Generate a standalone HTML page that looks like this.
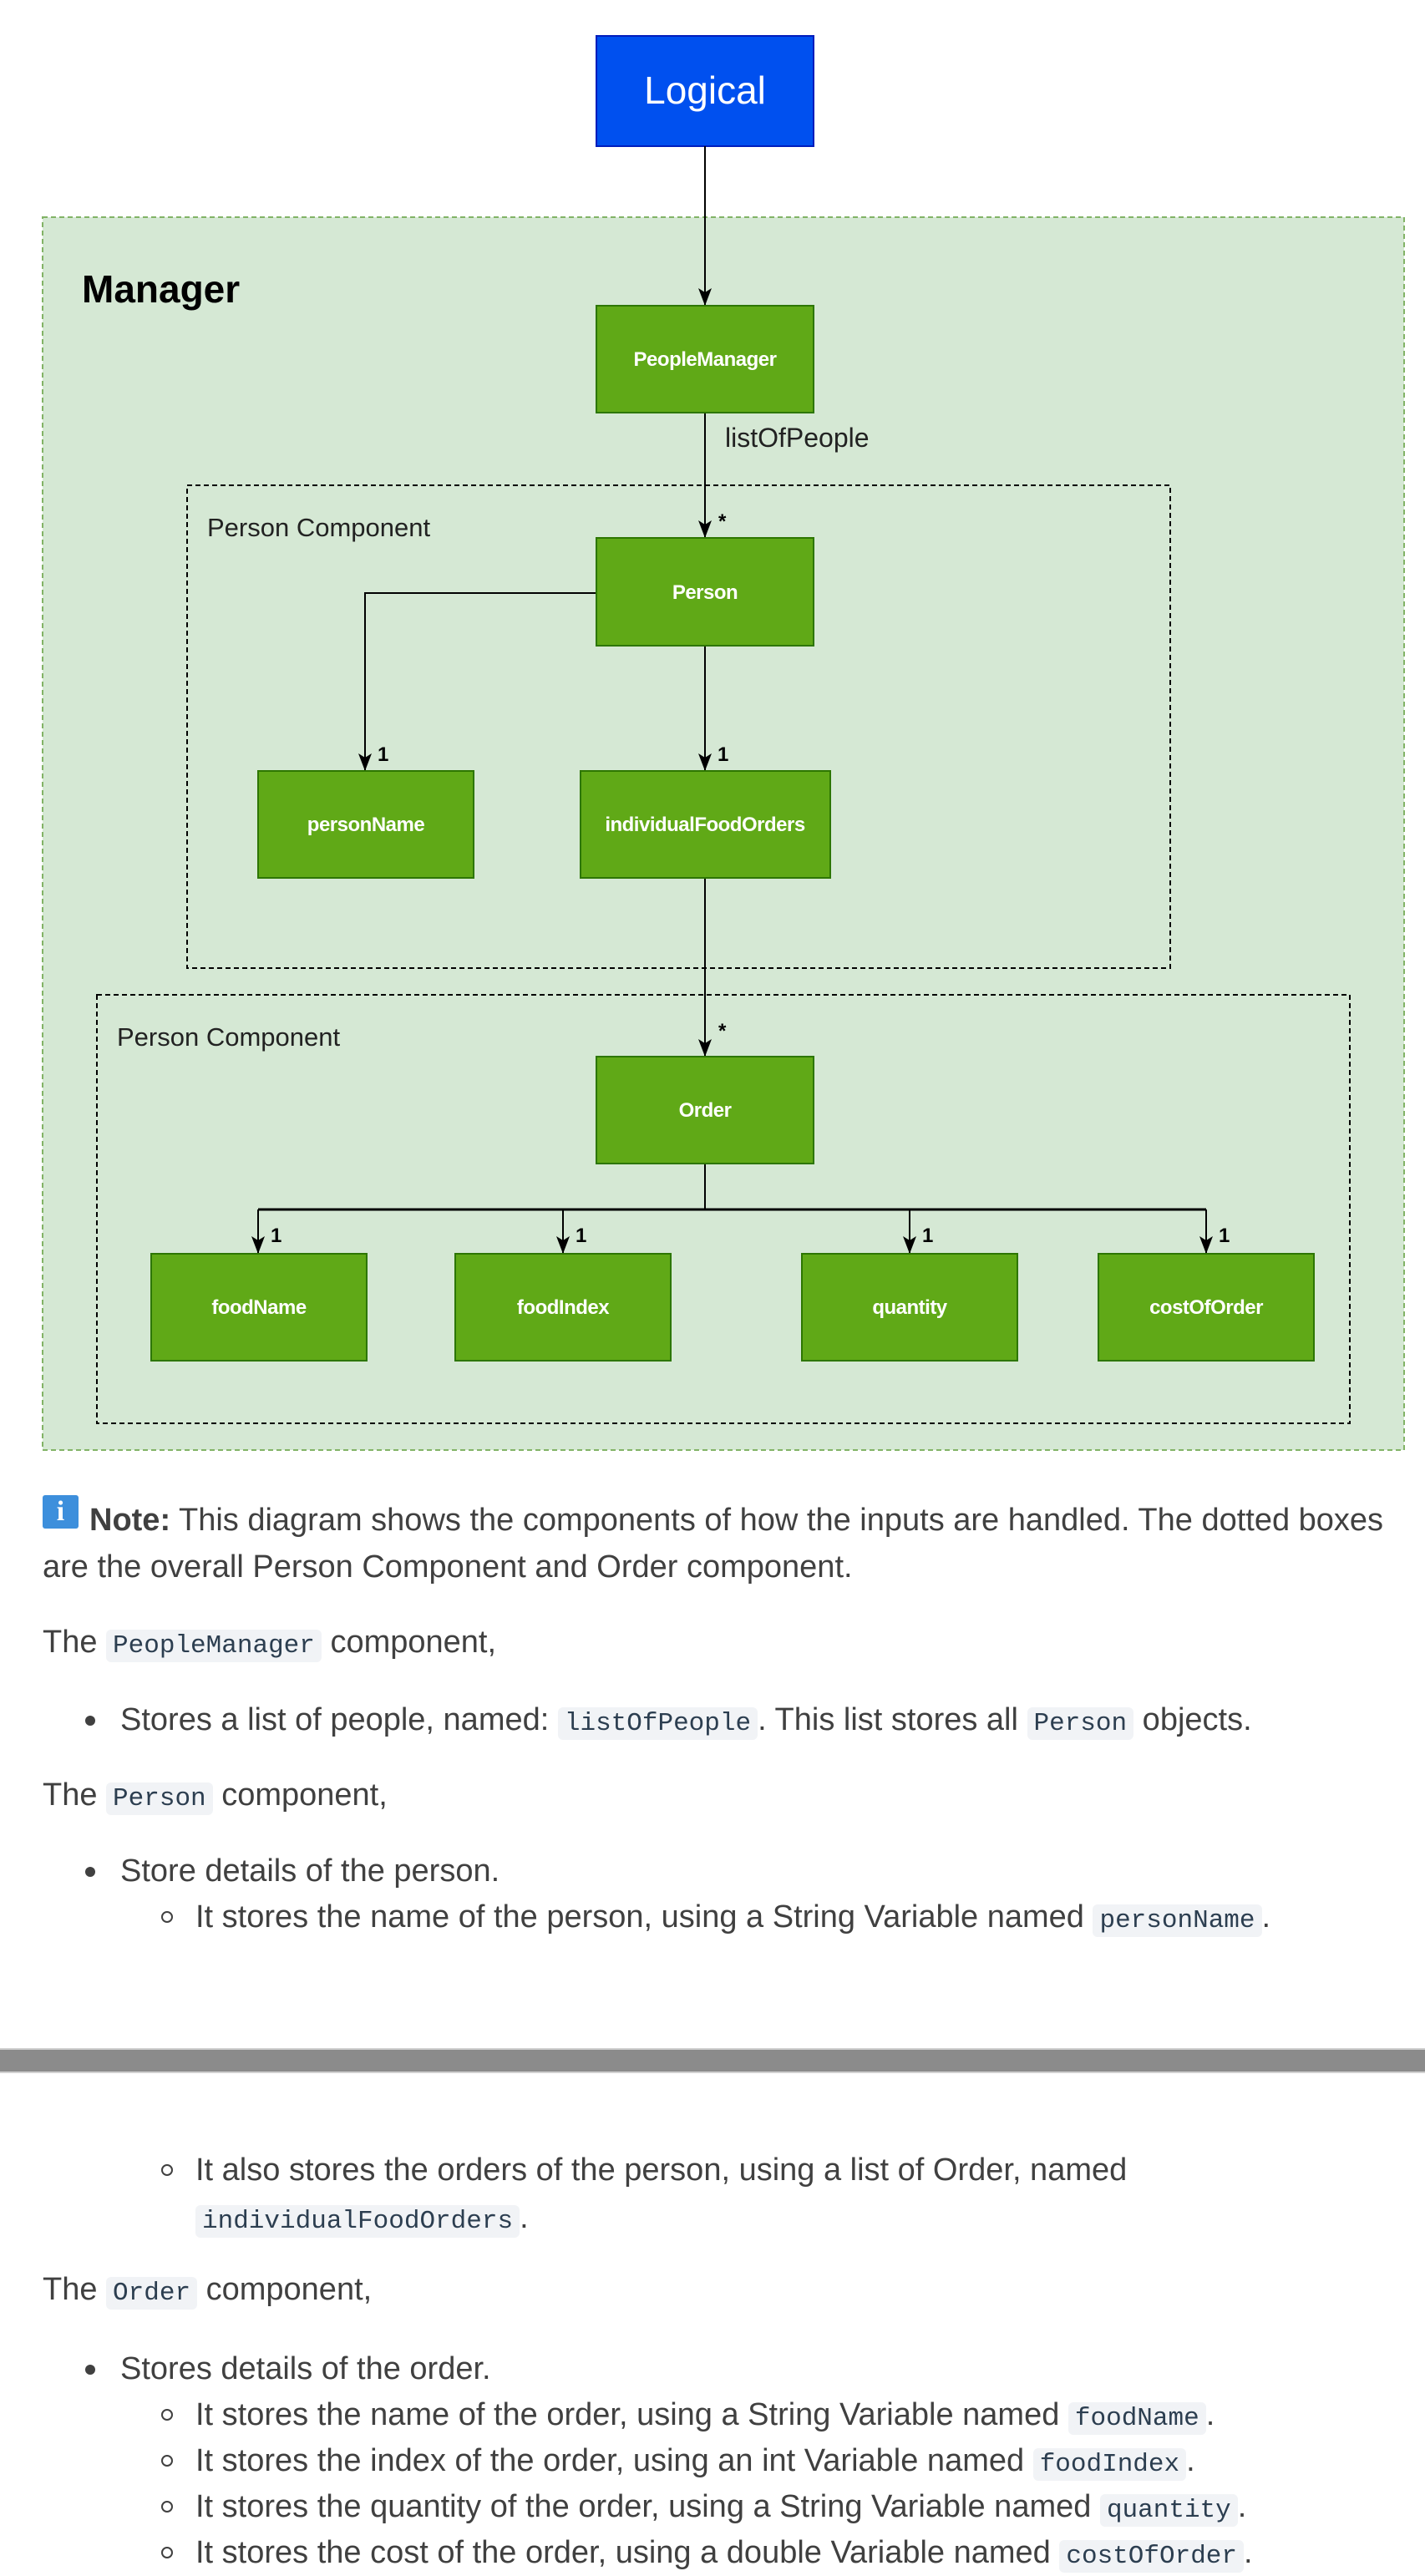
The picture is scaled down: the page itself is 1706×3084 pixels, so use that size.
<!DOCTYPE html>
<html><head><meta charset="utf-8"><style>
html,body{margin:0;padding:0;background:#fff;width:1706px;height:3084px;overflow:hidden;position:relative}
svg{position:absolute;left:0;top:0}
.t{position:absolute;left:51px;font-family:"Liberation Sans",sans-serif;font-size:38px;color:#404040;line-height:55px;white-space:nowrap}
code{font-family:"Liberation Mono",monospace;font-size:31px;background:#f1f3f6;color:#2c3e50;padding:2px 8px;border-radius:6px}
.dot{position:absolute;width:12px;height:12px;border-radius:50%;background:#404040}
.cir{position:absolute;width:14px;height:14px;border-radius:50%;border:2.5px solid #404040;box-sizing:border-box}
</style></head><body>
<svg width="1706" height="1760" font-family="Liberation Sans, sans-serif">
<defs><marker id="a" markerWidth="22" markerHeight="18" refX="20" refY="8" orient="auto" markerUnits="userSpaceOnUse"><path d="M0,0 L21,8 L0,16 L5,8 z" fill="#000"/></marker></defs>
<rect x="51" y="260" width="1630" height="1476" fill="#d5e8d4" stroke="#82b366" stroke-width="2" stroke-dasharray="6,4"/>
<rect x="714" y="43" width="260" height="132" fill="#0050ef" stroke="#001dbc" stroke-width="2"/>
<text x="844" y="124" fill="#fff" font-size="46" text-anchor="middle">Logical</text>
<text x="98" y="362" font-size="46" font-weight="bold" fill="#000">Manager</text>
<rect x="224" y="581" width="1177" height="578" fill="none" stroke="#000" stroke-width="2" stroke-dasharray="6,4"/>
<rect x="116" y="1191" width="1500" height="513" fill="none" stroke="#000" stroke-width="2" stroke-dasharray="6,4"/>
<text x="248" y="642" font-size="31" fill="#222">Person Component</text>
<text x="140" y="1252" font-size="31" fill="#222">Person Component</text>
<g stroke="#000" stroke-width="2" fill="none">
<line x1="844" y1="175" x2="844" y2="365" marker-end="url(#a)"/>
<line x1="844" y1="494" x2="844" y2="643" marker-end="url(#a)"/>
<polyline points="714,710 437,710 437,922" marker-end="url(#a)"/>
<line x1="844" y1="773" x2="844" y2="922" marker-end="url(#a)"/>
<line x1="844" y1="1051" x2="844" y2="1264" marker-end="url(#a)"/>
<line x1="844" y1="1393" x2="844" y2="1448"/>
<line x1="309" y1="1448" x2="1444" y2="1448" stroke-width="3"/>
<line x1="309" y1="1448" x2="309" y2="1500" marker-end="url(#a)"/>
<line x1="674" y1="1448" x2="674" y2="1500" marker-end="url(#a)"/>
<line x1="1089" y1="1448" x2="1089" y2="1500" marker-end="url(#a)"/>
<line x1="1444" y1="1448" x2="1444" y2="1500" marker-end="url(#a)"/>
</g>
<text x="868" y="535" font-size="32" fill="#222">listOfPeople</text>
<g fill="#000" font-weight="bold" font-size="24"><text x="860" y="632">*</text><text x="860" y="1242">*</text>
<text x="452" y="911">1</text><text x="859" y="911">1</text>
<text x="324" y="1487">1</text><text x="689" y="1487">1</text><text x="1104" y="1487">1</text><text x="1459" y="1487">1</text></g>
<g fill="#60a917" stroke="#2d7600" stroke-width="2">
<rect x="714" y="366" width="260" height="128"/>
<rect x="714" y="644" width="260" height="129"/>
<rect x="309" y="923" width="258" height="128"/>
<rect x="695" y="923" width="299" height="128"/>
<rect x="714" y="1265" width="260" height="128"/>
<rect x="181" y="1501" width="258" height="128"/>
<rect x="545" y="1501" width="258" height="128"/>
<rect x="960" y="1501" width="258" height="128"/>
<rect x="1315" y="1501" width="258" height="128"/>
</g>
<g fill="#fff" font-size="24" font-weight="bold" text-anchor="middle" letter-spacing="-0.5">
<text x="844" y="438">PeopleManager</text>
<text x="844" y="717">Person</text>
<text x="438" y="995">personName</text>
<text x="844" y="995">individualFoodOrders</text>
<text x="844" y="1337">Order</text>
<text x="310" y="1573">foodName</text>
<text x="674" y="1573">foodIndex</text>
<text x="1089" y="1573">quantity</text>
<text x="1444" y="1573">costOfOrder</text>
</g>
</svg>
<div style="position:absolute;left:51px;top:1790px;width:43px;height:40px;background:#3d8fdc;border-radius:3px;color:#fff;font:bold 34px 'Liberation Serif',serif;text-align:center;line-height:40px">i</div>
<div class="t" style="top:1793px;left:107px"><b>Note:</b> This diagram shows the components of how the inputs are handled. The dotted boxes</div>
<div class="t" style="top:1849px">are the overall Person Component and Order component.</div>
<div class="t" style="top:1939px">The <code>PeopleManager</code> component,</div>
<div class="dot" style="left:102px;top:2054px"></div>
<div class="t" style="top:2032px;left:144px">Stores a list of people, named: <code>listOfPeople</code>. This list stores all <code>Person</code> objects.</div>
<div class="t" style="top:2122px">The <code>Person</code> component,</div>
<div class="dot" style="left:102px;top:2235px"></div>
<div class="t" style="top:2213px;left:144px">Store details of the person.</div>
<div class="cir" style="left:193px;top:2288px"></div>
<div class="t" style="top:2268px;left:234px">It stores the name of the person, using a String Variable named <code>personName</code>.</div>
<div style="position:absolute;left:0;top:2452px;width:1706px;height:2px;background:#d0d0d0"></div>
<div style="position:absolute;left:0;top:2454px;width:1706px;height:26px;background:#8b8b8b"></div>
<div style="position:absolute;left:0;top:2480px;width:1706px;height:2px;background:#d0d0d0"></div>
<div class="cir" style="left:193px;top:2591px"></div>
<div class="t" style="top:2571px;left:234px">It also stores the orders of the person, using a list of Order, named</div>
<div class="t" style="top:2628px;left:234px"><code>individualFoodOrders</code>.</div>
<div class="t" style="top:2714px">The <code>Order</code> component,</div>
<div class="dot" style="left:102px;top:2831px"></div>
<div class="t" style="top:2809px;left:144px">Stores details of the order.</div>
<div class="cir" style="left:193px;top:2884px"></div>
<div class="t" style="top:2864px;left:234px">It stores the name of the order, using a String Variable named <code>foodName</code>.</div>
<div class="cir" style="left:193px;top:2939px"></div>
<div class="t" style="top:2919px;left:234px">It stores the index of the order, using an int Variable named <code>foodIndex</code>.</div>
<div class="cir" style="left:193px;top:2994px"></div>
<div class="t" style="top:2974px;left:234px">It stores the quantity of the order, using a String Variable named <code>quantity</code>.</div>
<div class="cir" style="left:193px;top:3049px"></div>
<div class="t" style="top:3029px;left:234px">It stores the cost of the order, using a double Variable named <code>costOfOrder</code>.</div>
</body></html>
